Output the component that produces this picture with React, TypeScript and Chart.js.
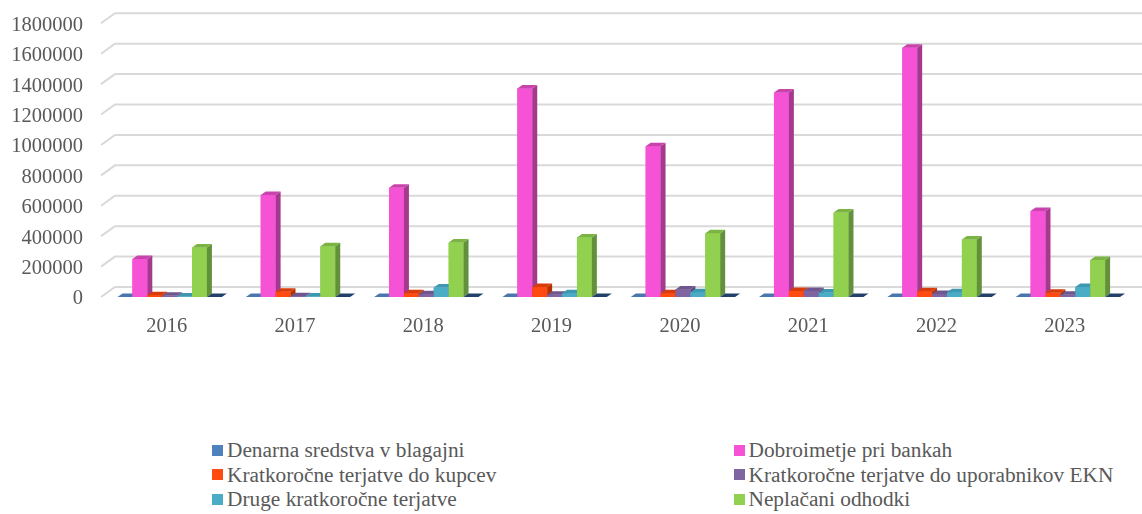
import React, { useEffect, useRef } from "react";
import { Chart, registerables } from "chart.js";

Chart.register(...registerables);

const years = ["2016", "2017", "2018", "2019", "2020", "2021", "2022", "2023"];

const seriesNames = [
  "Denarna sredstva v blagajni",
  "Dobroimetje pri bankah",
  "Kratkoročne terjatve do kupcev",
  "Kratkoročne terjatve do uporabnikov EKN",
  "Druge kratkoročne terjatve",
  "Neplačani odhodki",
];

const denarnaSredstva = [0, 0, 0, 0, 0, 0, 0, 0];
const dobroimetje = [250000, 670000, 718000, 1372000, 992000, 1345000, 1640000, 565000];
const terjatveKupci = [12000, 35000, 25000, 65000, 25000, 40000, 38000, 28000];
const terjatveEKN = [8000, 5000, 18000, 15000, 50000, 40000, 20000, 15000];
const drugeTerjatve = [3000, 3000, 62000, 25000, 32000, 30000, 32000, 66000];
const neplacaniOdhodki = [325000, 333000, 358000, 392000, 420000, 555000, 378000, 243000];
const dodatnaSerija = [0, 0, 0, 0, 0, 0, 0, 0];

const yTickMin = 0;
const yTickMax = 1800000;
const yTickStep = 200000;

const frontColors = ["#4F81BD", "#F552D6", "#FF4A10", "#8064A2", "#4BACC6", "#92D050", "#1F3864"];
const sideColors = ["#395E8C", "#A4398E", "#B33200", "#5C4676", "#31809A", "#63903A", "#15274A"];
const topColors = ["#4A76AE", "#C844AC", "#D83C0A", "#6E568E", "#3E98B2", "#7CB444", "#22406A"];

const DX = 5;
const DY = 3.5;

const threeD = {
  id: "threeD",
  beforeDatasetsDraw(chart: any) {
    const ctx = chart.ctx;
    const ys = chart.scales.y;
    ctx.save();
    ctx.strokeStyle = "#D9D9D9";
    ctx.lineWidth = 2;
    ys.ticks.forEach((t: any) => {
      const y = ys.getPixelForValue(t.value);
      ctx.beginPath();
      ctx.moveTo(101, y);
      ctx.lineTo(115, y - 10);
      ctx.lineTo(1142, y - 10);
      ctx.stroke();
    });
    ctx.restore();
  },
  afterDatasetsDraw(chart: any) {
    const ctx = chart.ctx;
    ctx.save();
    const n = chart.data.datasets.length;
    for (let i = 0; i < n; i++) {
      const meta = chart.getDatasetMeta(i);
      meta.data.forEach((bar: any) => {
        const p = bar.getProps(["x", "y", "base", "width"], true);
        const l = p.x - p.width / 2;
        const r = p.x + p.width / 2;
        const top = Math.min(p.y, p.base);
        const bottom = Math.max(p.y, p.base);
        // front
        ctx.fillStyle = frontColors[i];
        ctx.fillRect(l, top, r - l, bottom - top);
        // side
        ctx.fillStyle = sideColors[i];
        ctx.beginPath();
        ctx.moveTo(r, bottom);
        ctx.lineTo(r + DX, bottom - DY);
        ctx.lineTo(r + DX, top - DY);
        ctx.lineTo(r, top);
        ctx.closePath();
        ctx.fill();
        // top
        ctx.fillStyle = topColors[i];
        ctx.beginPath();
        ctx.moveTo(l, top);
        ctx.lineTo(l + DX, top - DY);
        ctx.lineTo(r + DX, top - DY);
        ctx.lineTo(r, top);
        ctx.closePath();
        ctx.fill();
      });
    }
    ctx.restore();
  },
};

const CANVAS_H = 360;
const AREA_LEFT = 105.5;
const AREA_RIGHT = 1132;
const AREA_TOP = 23.3;
const AREA_BOTTOM = 297;

export default function App() {
  const ref = useRef<HTMLCanvasElement>(null);

  useEffect(() => {
    if (!ref.current) return;
    const allData = [
      denarnaSredstva,
      dobroimetje,
      terjatveKupci,
      terjatveEKN,
      drugeTerjatve,
      neplacaniOdhodki,
      dodatnaSerija,
    ];
    const labels = [...seriesNames, ""];
    const chart = new Chart(ref.current, {
      type: "bar",
      data: {
        labels: years,
        datasets: allData.map((d, k) => ({
          label: labels[k],
          data: d,
          backgroundColor: frontColors[k],
          borderWidth: 0,
          categoryPercentage: 0.813,
          barPercentage: 1.0,
        })),
      },
      options: {
        animation: false,
        responsive: false,
        devicePixelRatio: 1,
        layout: {
          padding: { left: 0, right: 1142 - AREA_RIGHT, top: AREA_TOP, bottom: 0 },
        },
        plugins: {
          legend: { display: false },
          tooltip: { enabled: false },
        },
        scales: {
          x: {
            grid: { display: false, drawTicks: false },
            border: { display: false },
            ticks: {
              color: "#595959",
              font: { family: "'Liberation Serif', 'Times New Roman', serif", size: 20.5 },
              padding: 17,
              labelOffset: -3,
              maxRotation: 0,
            },
            afterFit: (s: any) => {
              s.height = CANVAS_H - AREA_BOTTOM;
              s.paddingLeft = 0;
              s.paddingRight = 0;
            },
          },
          y: {
            min: yTickMin,
            max: yTickMax,
            grid: { display: false, drawTicks: false },
            border: { display: false },
            ticks: {
              stepSize: yTickStep,
              color: "#595959",
              font: { family: "'Liberation Serif', 'Times New Roman', serif", size: 20.5 },
              padding: AREA_LEFT - 83,
              labelOffset: 2,
              callback: (v: any) => String(v),
            },
            afterFit: (s: any) => {
              s.width = AREA_LEFT;
              s.paddingTop = 0;
              s.paddingBottom = 0;
            },
          },
        },
      },
      plugins: [threeD],
    });
    return () => chart.destroy();
  }, []);

  const colLeft = [212, 733.5];
  const rowCenter = [450, 474.5, 499];

  return (
    <div style={{ position: "absolute", left: 0, top: 0, width: 1142, height: 514, background: "#fff", overflow: "hidden" }}>
      <canvas ref={ref} width={1142} height={CANVAS_H} style={{ display: "block", width: 1142, height: CANVAS_H }} />
      {seriesNames.map((name, k) => (
        <div
          key={name}
          style={{
            position: "absolute",
            left: colLeft[k % 2],
            top: rowCenter[Math.floor(k / 2)] - 12,
            height: 24,
            display: "flex",
            alignItems: "center",
            whiteSpace: "nowrap",
          }}
        >
          <span style={{ display: "inline-block", width: 11, height: 11, background: frontColors[k], marginRight: 4 }} />
          <span
            style={{
              fontFamily: "'Liberation Serif', 'Times New Roman', serif",
              fontSize: 21.33,
              lineHeight: "24px",
              color: "#595959",
            }}
          >
            {name}
          </span>
        </div>
      ))}
    </div>
  );
}
